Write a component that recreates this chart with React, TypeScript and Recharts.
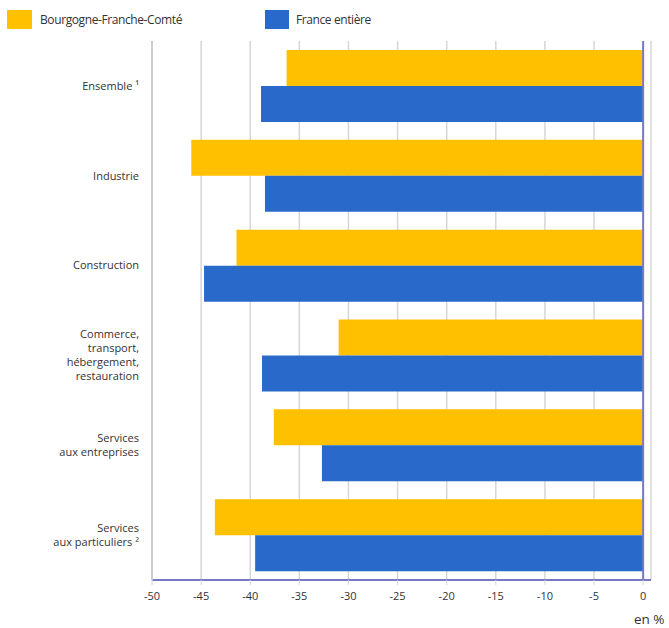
import { BarChart, Bar, XAxis, YAxis, CartesianGrid, ReferenceLine } from "recharts";

const categories = [
  ["Ensemble ¹"],
  ["Industrie"],
  ["Construction"],
  ["Commerce,", "transport,", "hébergement,", "restauration"],
  ["Services", "aux entreprises"],
  ["Services", "aux particuliers ²"],
];
const bourgogne = [-36.3, -46.0, -41.4, -31.0, -37.6, -43.6];
const france = [-38.9, -38.5, -44.7, -38.8, -32.7, -39.5];
const xTicks = [-50, -45, -40, -35, -30, -25, -20, -15, -10, -5, 0];

const YELLOW = "#ffc000";
const BLUE = "#2969c9";
const AXIS = "#7878c6";
const FONT = "'Open Sans', sans-serif";

const data = categories.map((lines, i) => ({
  name: lines.join(" "),
  lines,
  bfc: bourgogne[i],
  fr: france[i],
}));

const CategoryTick = (props: any) => {
  const { y, index } = props;
  const lines: string[] = data[index]?.lines ?? [];
  const lh = 14;
  const start = y - ((lines.length - 1) * lh) / 2;
  return (
    <text x={139} y={start} textAnchor="end" fontSize={11} fill="#333" fontFamily={FONT}>
      {lines.map((l, i) => (
        <tspan key={i} x={139} y={start + i * lh} dy="0.35em">
          {l}
        </tspan>
      ))}
    </text>
  );
};

export default function App() {
  return (
    <div style={{ position: "absolute", left: 0, top: 0, width: 669, height: 628, background: "#fff", fontFamily: FONT }}>
      {/* legend */}
      <div style={{ position: "absolute", left: 7, top: 10, display: "flex", alignItems: "center" }}>
        <span style={{ width: 25, height: 19, background: YELLOW, display: "inline-block" }} />
        <span style={{ marginLeft: 8, fontSize: 12, letterSpacing: -0.4, color: "#333" }}>Bourgogne-Franche-Comté</span>
      </div>
      <div style={{ position: "absolute", left: 265, top: 10, display: "flex", alignItems: "center" }}>
        <span style={{ width: 24, height: 19, background: BLUE, display: "inline-block" }} />
        <span style={{ marginLeft: 7, fontSize: 12, letterSpacing: -0.4, color: "#333" }}>France entière</span>
      </div>

      <BarChart
        width={669}
        height={628}
        data={data}
        layout="vertical"
        margin={{ top: 41, right: 18, left: 12, bottom: 18 }}
        barSize={36}
        barGap={0}
      >
        <CartesianGrid horizontal={false} stroke="#d6d6d6" strokeWidth={1.5} />
        <XAxis
          type="number"
          domain={[-50, 0.8]}
          ticks={xTicks}
          allowDataOverflow
          height={30}
          tickSize={5}
          tickMargin={7}
          tick={{ fontSize: 11, fill: "#333", fontFamily: FONT }}
          tickLine={{ stroke: "#d6d6d6" }}
          axisLine={{ stroke: AXIS, strokeWidth: 2 }}
        />
        <YAxis
          type="category"
          dataKey="name"
          width={140}
          tick={<CategoryTick />}
          tickLine={false}
          axisLine={{ stroke: "#cccccc", strokeWidth: 2 }}
          interval={0}
        />
        <Bar dataKey="bfc" fill={YELLOW} isAnimationActive={false} />
        <Bar dataKey="fr" fill={BLUE} isAnimationActive={false} />
        <ReferenceLine x={0} stroke={AXIS} strokeWidth={2} />
      </BarChart>

      <div style={{ position: "absolute", left: 634, top: 610, fontSize: 13.5, color: "#333" }}>en %</div>
    </div>
  );
}
